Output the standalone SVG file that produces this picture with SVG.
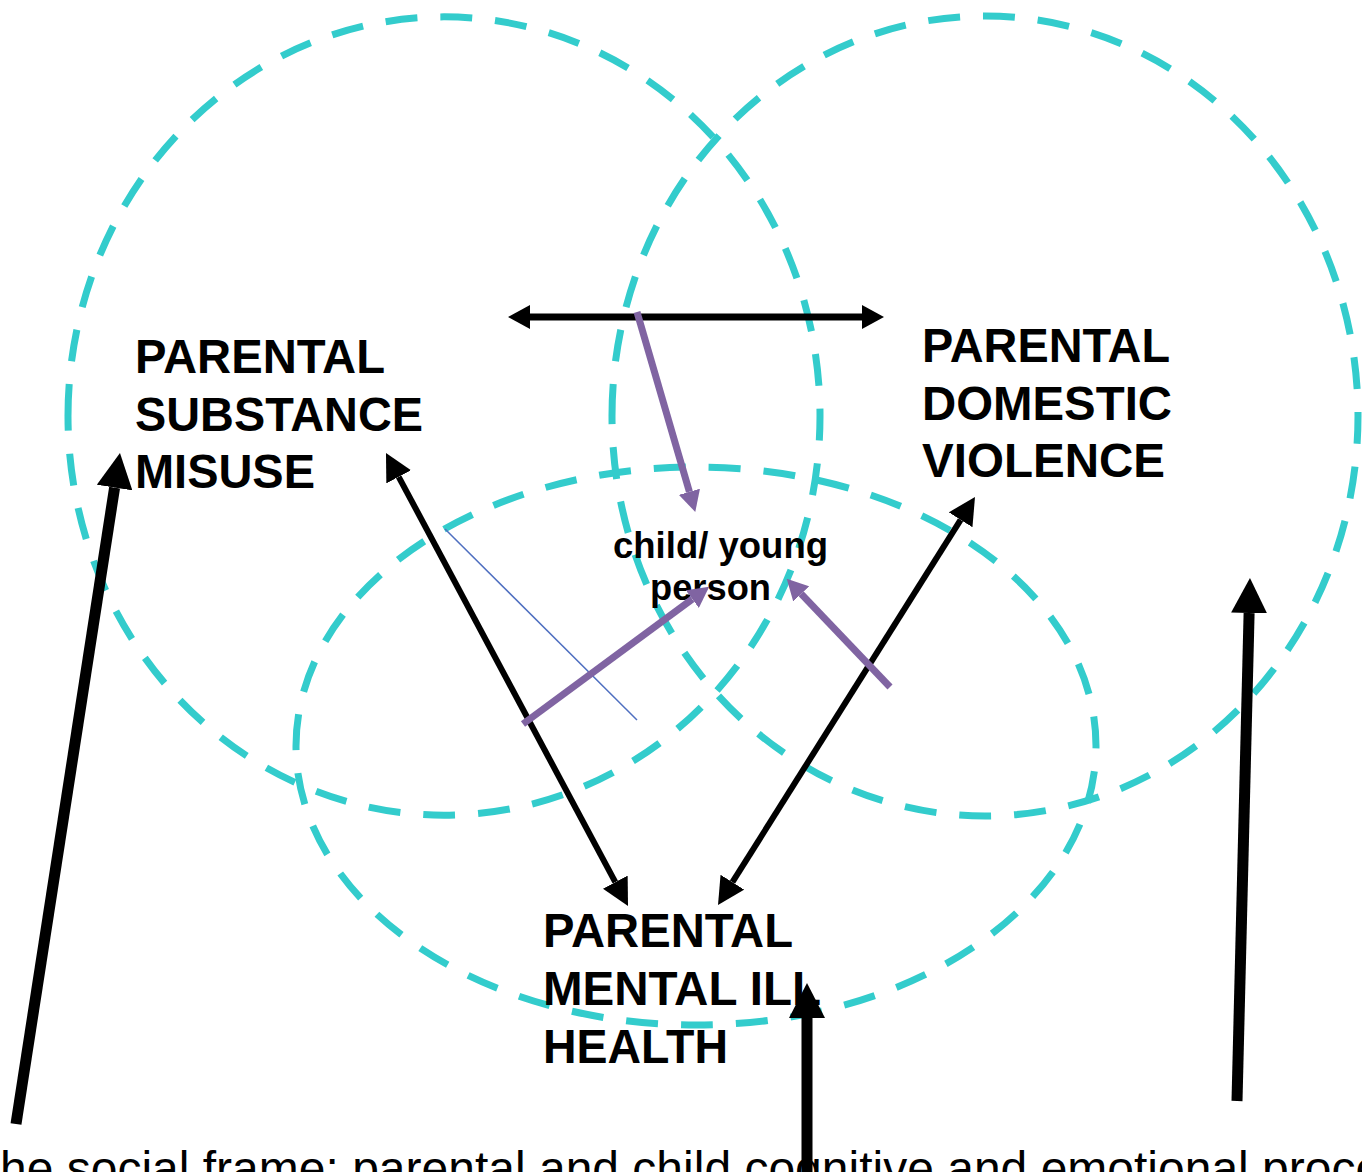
<svg xmlns="http://www.w3.org/2000/svg" width="1362" height="1172" viewBox="0 0 1362 1172">
<style>
.ring{fill:none;stroke:#33CCCC;stroke-width:7;stroke-dasharray:32 23}
.lbl{font-family:"Liberation Sans",Arial,sans-serif;font-weight:bold;font-size:48px;fill:#000}
.small{font-family:"Liberation Sans",Arial,sans-serif;font-weight:bold;font-size:37px;fill:#000}
.foot{font-family:"Liberation Sans",Arial,sans-serif;font-size:48px;fill:#000}
.thick{stroke:#000;stroke-width:11;fill:none}
.mid{stroke:#000;stroke-width:6;fill:none}
.hz{stroke:#000;stroke-width:7;fill:none}
.pur{stroke:#8064A2;stroke-width:7;fill:none}
.thin{stroke:#4F6FC0;stroke-width:1.5;fill:none}
</style>
<defs>
<marker id="mThick" markerUnits="userSpaceOnUse" markerWidth="35" markerHeight="36" viewBox="0 0 35 36" refX="0" refY="18" orient="auto-start-reverse"><path d="M0,0 L35,18 L0,36 Z" fill="#000"/></marker>
<marker id="mMid" markerUnits="userSpaceOnUse" markerWidth="27" markerHeight="28" viewBox="0 0 27 28" refX="0" refY="14" orient="auto-start-reverse"><path d="M0,0 L27,14 L0,28 Z" fill="#000"/></marker>
<marker id="mHz" markerUnits="userSpaceOnUse" markerWidth="22" markerHeight="24" viewBox="0 0 22 24" refX="0" refY="12" orient="auto-start-reverse"><path d="M0,0 L22,12 L0,24 Z" fill="#000"/></marker>
<marker id="mPur" markerUnits="userSpaceOnUse" markerWidth="21" markerHeight="22" viewBox="0 0 21 22" refX="0" refY="11" orient="auto-start-reverse"><path d="M0,0 L21,11 L0,22 Z" fill="#8064A2"/></marker>
</defs>

<g id="circle-substance">
<path class="ring" d="M68,416 A376,399 0 1,1 820,416 A376,399 0 1,1 68,416 Z"/>
</g>
<g id="circle-domestic">
<path class="ring" d="M612,416 A373,400 0 1,1 1358,416 A373,400 0 1,1 612,416 Z"/>
</g>
<g id="circle-mental">
<path class="ring" d="M296,746 A400,279 0 1,1 1096,746 A400,279 0 1,1 296,746 Z"/>
</g>

<g id="node-substance">
<text class="lbl" x="135" y="373" textLength="250" lengthAdjust="spacingAndGlyphs">PARENTAL</text>
<text class="lbl" x="135" y="431" textLength="288" lengthAdjust="spacingAndGlyphs">SUBSTANCE</text>
<text class="lbl" x="135" y="488" textLength="180" lengthAdjust="spacingAndGlyphs">MISUSE</text>
</g>
<g id="node-domestic">
<text class="lbl" x="922" y="362" textLength="248" lengthAdjust="spacingAndGlyphs">PARENTAL</text>
<text class="lbl" x="922" y="420" textLength="250" lengthAdjust="spacingAndGlyphs">DOMESTIC</text>
<text class="lbl" x="922" y="477" textLength="243" lengthAdjust="spacingAndGlyphs">VIOLENCE</text>
</g>
<g id="node-mental">
<text class="lbl" x="543" y="947" textLength="250" lengthAdjust="spacingAndGlyphs">PARENTAL</text>
<text class="lbl" x="543" y="1005" textLength="278" lengthAdjust="spacingAndGlyphs">MENTAL ILL</text>
<text class="lbl" x="543" y="1063" textLength="185" lengthAdjust="spacingAndGlyphs">HEALTH</text>
</g>
<g id="node-child">
<text class="small" x="613" y="558" textLength="215" lengthAdjust="spacingAndGlyphs">child/ young</text>
<text class="small" x="650" y="600" textLength="121" lengthAdjust="spacingAndGlyphs">person</text>
</g>
<g id="node-social-frame">
<text class="foot" x="0" y="1185">he social frame: parental and child cognitive and emotional proce</text>
</g>

<g id="connectors">
<path class="hz" d="M530,317 L862,317" marker-start="url(#mHz)" marker-end="url(#mHz)"/>
<path class="mid" d="M398.7,476.8 L615.3,882.2" marker-start="url(#mMid)" marker-end="url(#mMid)"/>
<path class="mid" d="M960.6,519.8 L732.4,882.2" marker-start="url(#mMid)" marker-end="url(#mMid)"/>
<path class="thin" d="M445,529 L637,720"/>
<path class="pur" d="M637,312 L689.4,491.8" marker-end="url(#mPur)"/>
<path class="pur" d="M523,724 L692.3,599.1" marker-end="url(#mPur)"/>
<path class="pur" d="M890,687 L801.2,593.9" marker-end="url(#mPur)"/>
<path class="thick" d="M16,1124 L114.6,487.6" marker-end="url(#mThick)"/>
<path class="thick" d="M807,1180 L807,1018" marker-end="url(#mThick)"/>
<path class="thick" d="M1237,1101 L1249.1,613" marker-end="url(#mThick)"/>
</g>
</svg>
